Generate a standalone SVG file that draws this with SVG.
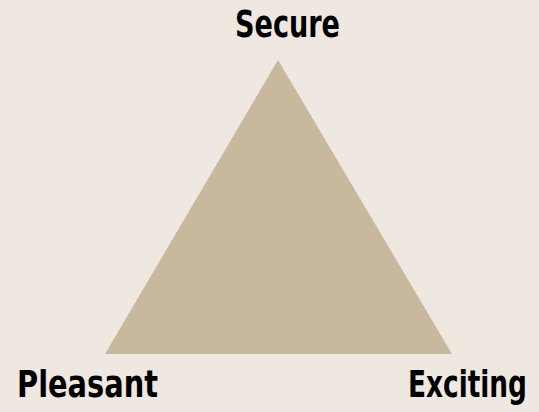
<svg xmlns="http://www.w3.org/2000/svg" width="539" height="412" viewBox="0 0 539 412">
<style>
.lbl{font-family:"Liberation Sans Narrow","DejaVu Sans Condensed","Liberation Sans",sans-serif;font-weight:bold;font-size:38px;fill:#000}
</style>
<rect width="539" height="412" fill="#EEE8E0"/>
<g id="triangle"><polygon points="278,60 105,354 452,354" fill="#C8B89E"/></g>
<g id="secure"><text class="lbl" x="235" y="37" textLength="105" lengthAdjust="spacingAndGlyphs">Secure</text></g>
<g id="pleasant"><text class="lbl" x="17" y="397" textLength="141" lengthAdjust="spacingAndGlyphs">Pleasant</text></g>
<g id="exciting"><text class="lbl" x="408" y="397" textLength="119" lengthAdjust="spacingAndGlyphs">Exciting</text></g>
<g id="connectors"></g>
</svg>
